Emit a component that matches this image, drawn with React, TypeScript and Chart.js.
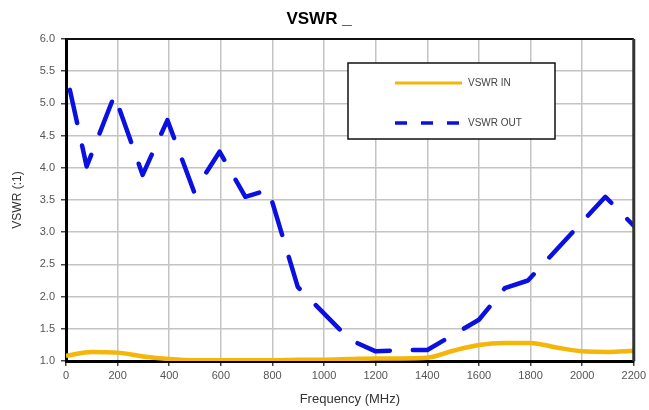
import React, { useEffect, useRef } from "react";
import { Chart, registerables } from "chart.js";

Chart.register(...registerables);

const chartTitle = "VSWR _";
const xTitle = "Frequency (MHz)";
const yTitle = "VSWR (:1)";
const inLabel = "VSWR IN";
const outLabel = "VSWR OUT";

const inFreq = [0, 100, 200, 300, 400, 500, 600, 700, 800, 900, 1000, 1100, 1200, 1300, 1400, 1500, 1600, 1700, 1800, 1900, 2000, 2100, 2200];
const inVswr = [1.08, 1.14, 1.13, 1.07, 1.03, 1.01, 1.01, 1.01, 1.01, 1.02, 1.02, 1.03, 1.04, 1.04, 1.05, 1.16, 1.25, 1.28, 1.28, 1.21, 1.15, 1.14, 1.16];

const outFreq = [15, 80, 188, 297, 393, 496, 595, 695, 785, 898, 1100, 1200, 1300, 1400, 1600, 1700, 1790, 2090, 2200];
const outVswr = [5.21, 4.02, 5.13, 3.89, 4.74, 3.63, 4.25, 3.55, 3.66, 2.15, 1.33, 1.15, 1.17, 1.17, 1.64, 2.13, 2.25, 3.55, 3.1];

const xMin = 0, xMax = 2200, xStep = 200;
const yMin = 1, yMax = 6, yStep = 0.5;

const FONT = "Arial, 'Liberation Sans', sans-serif";

const frameAndLegend = {
  id: "frameAndLegend",
  afterDraw(chart: any) {
    const { ctx, chartArea } = chart;
    const { left, right, top, bottom } = chartArea;
    ctx.save();
    ctx.strokeStyle = "#111";
    ctx.lineWidth = 2;
    ctx.beginPath();
    ctx.moveTo(left, top);
    ctx.lineTo(right, top);
    ctx.stroke();
    ctx.lineWidth = 3;
    ctx.strokeStyle = "#333";
    ctx.beginPath();
    ctx.moveTo(right, top);
    ctx.lineTo(right, bottom);
    ctx.stroke();

    const bx = 348, by = 63, bw = 207, bh = 76;
    ctx.fillStyle = "#fff";
    ctx.fillRect(bx, by, bw, bh);
    ctx.strokeStyle = "#111";
    ctx.lineWidth = 1.5;
    ctx.strokeRect(bx, by, bw, bh);

    const ds = chart.data.datasets;
    const items = [
      { d: ds[0], y: 83, dash: [] as number[] },
      { d: ds[1], y: 123, dash: [12, 14] },
    ];
    items.forEach((it) => {
      ctx.strokeStyle = it.d.borderColor;
      ctx.lineWidth = it.dash.length ? 3.5 : 3;
      ctx.lineCap = "butt";
      ctx.setLineDash(it.dash);
      ctx.beginPath();
      ctx.moveTo(395, it.y);
      ctx.lineTo(462, it.y);
      ctx.stroke();
      ctx.setLineDash([]);
      ctx.fillStyle = "#444";
      ctx.font = `10px ${FONT}`;
      ctx.textBaseline = "middle";
      ctx.textAlign = "left";
      ctx.fillText(it.d.label, 468, it.y);
    });
    ctx.restore();
  },
};

export default function App() {
  const ref = useRef<HTMLCanvasElement | null>(null);
  useEffect(() => {
    document.body.style.margin = "0";
    const canvas = ref.current;
    if (!canvas) return;
    const chart = new Chart(canvas, {
      type: "line",
      data: {
        datasets: [
          {
            label: inLabel,
            data: inFreq.map((x, i) => ({ x, y: inVswr[i] })),
            borderColor: "#f5b60a",
            borderWidth: 4.5,
            pointRadius: 0,
            cubicInterpolationMode: "monotone",
            fill: false,
          },
          {
            label: outLabel,
            data: outFreq.map((x, i) => ({ x, y: outVswr[i] })),
            borderColor: "#0a10e0",
            borderWidth: 4.5,
            borderDash: [34, 23],
            borderCapStyle: "round",
            borderJoinStyle: "round",
            pointRadius: 0,
            tension: 0,
            fill: false,
          },
        ],
      },
      options: {
        responsive: false,
        animation: false,
        layout: { padding: { top: 0, right: 11, left: 0, bottom: 0 } },
        plugins: {
          legend: { display: false },
          tooltip: { enabled: false },
          title: {
            display: true,
            text: chartTitle,
            color: "#000",
            font: { family: FONT, size: 17, weight: "bold" },
            padding: { top: 9, bottom: 9.6 },
          },
        },
        scales: {
          x: {
            type: "linear",
            min: xMin,
            max: xMax,
            afterFit: (s: any) => { s.height = 49; },
            ticks: {
              stepSize: xStep,
              color: "#555",
              font: { family: FONT, size: 11 },
              padding: 3,
              maxRotation: 0,
              autoSkip: false,
              callback: (v: any) => String(v),
            },
            grid: { color: "#c4c4c4", lineWidth: 1.5, tickLength: 5, tickColor: "#444" },
            border: { color: "#000", width: 3 },
            title: {
              display: true,
              text: xTitle,
              color: "#333",
              font: { family: FONT, size: 13 },
              padding: { top: 0, bottom: 3 },
            },
          },
          y: {
            type: "linear",
            min: yMin,
            max: yMax,
            afterFit: (s: any) => { s.width = 66; },
            ticks: {
              stepSize: yStep,
              color: "#555",
              font: { family: FONT, size: 11 },
              padding: 6,
              callback: (v: any) => Number(v).toFixed(1),
            },
            grid: { color: "#c4c4c4", lineWidth: 1.5, tickLength: 5, tickColor: "#444" },
            border: { color: "#000", width: 3 },
            title: {
              display: true,
              text: yTitle,
              color: "#333",
              font: { family: FONT, size: 12 },
              padding: { top: 10, bottom: 0 },
            },
          },
        },
      },
      plugins: [frameAndLegend],
    } as any);
    return () => chart.destroy();
  }, []);
  return (
    <div style={{ width: 649, height: 410, background: "#fff" }}>
      <canvas ref={ref} width={649} height={410} style={{ display: "block" }} />
    </div>
  );
}
